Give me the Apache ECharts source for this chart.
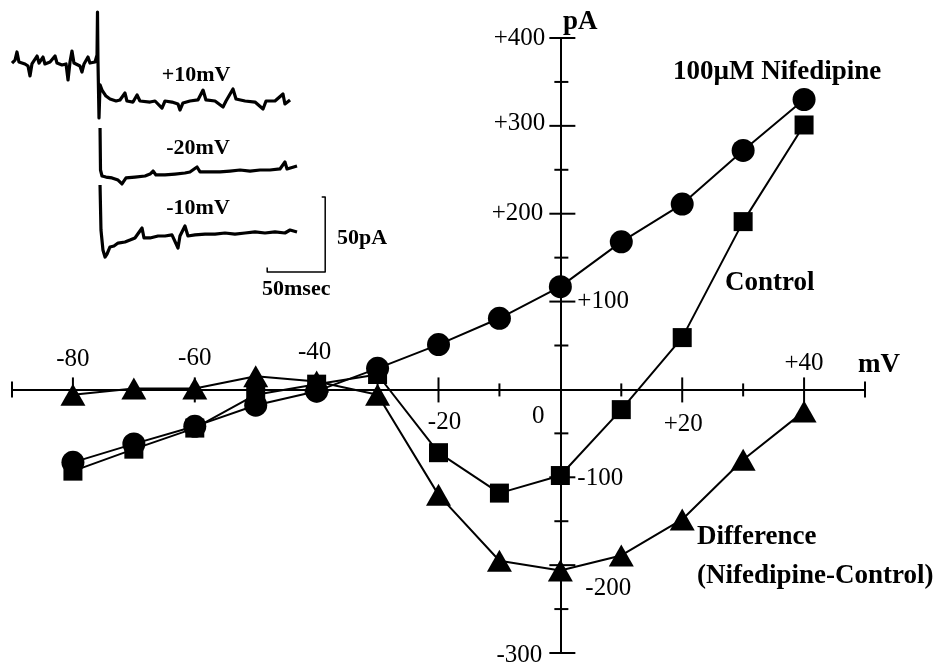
<!DOCTYPE html>
<html><head><meta charset="utf-8">
<script src="https://cdn.jsdelivr.net/npm/echarts@6/dist/echarts.min.js"></script>
<style>html,body{margin:0;padding:0;background:#fff}#c{width:938px;height:668px}</style>
</head><body><div id="c"></div>
<script>
// ---- I-V data (mV, pA) ----
const voltages   = [-80, -70, -60, -50, -40, -30, -20, -10, 0, 10, 20, 30, 40];
const nifedipine = [-83, -62, -42, -18, -2, 24, 51, 81, 117, 168, 211, 272, 330];
const control    = [-93, -68, -44, -6, 6, 17, -72, -118, -98, -23, 59, 191, 301];
const difference = [-6, 1, 1, 15, 9, -6, -120, -195, -206, -189, -148, -80, -25];

// ---- axis ticks / labels ----
const xTickMajor = [-80, -60, -40, -20, 20, 40];
const xTickMinor = [-70, -50, -30, -10, 10, 30];
const xAxisEnds  = [-90, 50];
const yTickMajor = [-300, -200, -100, 100, 200, 300, 400];
const yTickMinor = [-250, -150, -50, 50, 150, 250, 350];
const xLabelValues = [-80, -60, -40, -20, 0, 20, 40];
const xLabelTexts  = ['-80', '-60', '-40', '-20', '0', '+20', '+40'];
const yLabelValues = [-300, -200, -100, 100, 200, 300, 400];
const yLabelTexts  = ['-300', '-200', '-100', '+100', '+200', '+300', '+400'];

// ---- inset current traces (ms, pA) ----
const tracePlus10 = [[0,-0.7],[2.6,1.3],[4.3,6.7],[6.0,0],[11.2,-1.3],[13.8,-2.7],[15.5,-9.3],[17.2,-1.3],[21.6,4.0],[23.3,-0.7],[26.7,3.3],[28.4,-1.3],[32.8,0],[37.1,4.0],[38.8,-0.7],[43.1,-2.0],[46.6,-1.3],[48.3,-12.0],[50.0,0],[51.7,7.3],[53.4,-0.7],[58.6,-2.7],[60.3,-6.7],[62.1,-1.3],[65.5,3.3],[67.2,-0.7],[71.6,0],[73.3,4.7],[73.7,33.3],[74.1,1.3],[75.0,-37.3],[75.9,-15.3],[77.6,-18.7],[81.0,-22.7],[84.5,-24.7],[89.7,-26.0],[93.1,-25.3],[97.4,-20.7],[99.1,-26.0],[104.3,-26.7],[107.8,-22.0],[110.3,-26.0],[119.0,-26.7],[123.3,-26.0],[129.3,-30.7],[131.9,-26.0],[137.9,-26.7],[143.1,-28.0],[144.8,-32.0],[147.4,-27.3],[153.4,-26.0],[160.3,-25.3],[164.7,-18.7],[167.2,-25.3],[175.0,-26.0],[181.9,-30.0],[184.5,-26.0],[190.5,-18.0],[193.1,-24.7],[200.9,-26.0],[209.5,-26.7],[216.4,-31.3],[219.0,-26.0],[226.7,-26.0],[233.6,-21.3],[235.3,-28.0],[239.7,-25.3]];
const traceMinus20 = [[75.9,-44.0],[76.3,-72.0],[77.6,-76.0],[81.0,-76.7],[86.2,-77.3],[91.4,-78.7],[94.8,-81.3],[98.3,-77.3],[106.0,-76.7],[114.7,-76.0],[119.0,-74.7],[121.6,-72.7],[124.1,-75.3],[131.9,-75.3],[140.5,-74.7],[149.1,-74.0],[153.4,-73.3],[159.5,-70.0],[162.1,-73.3],[170.7,-73.3],[179.3,-73.3],[187.9,-72.7],[196.6,-72.0],[205.2,-72.7],[213.8,-72.0],[222.4,-72.0],[231.0,-71.3],[235.3,-66.7],[237.1,-71.3],[245.7,-69.3]];
const traceMinus10 = [[75.9,-82.0],[76.7,-112.0],[78.4,-125.3],[80.2,-130.0],[81.9,-128.0],[84.5,-123.3],[87.9,-122.7],[91.4,-120.7],[97.4,-120.0],[101.7,-118.7],[106.0,-117.3],[112.1,-110.7],[113.8,-117.3],[119.0,-117.3],[125.9,-116.0],[131.9,-116.0],[137.9,-115.3],[143.1,-124.0],[144.8,-116.0],[149.1,-109.3],[151.7,-116.0],[157.8,-115.3],[166.4,-114.7],[175.0,-114.7],[183.6,-114.0],[192.2,-114.7],[200.9,-114.0],[209.5,-113.3],[218.1,-114.0],[226.7,-113.3],[235.3,-114.0],[239.7,-112.0],[245.7,-113.3]];
const scaleBar = [[220,-137],[220,-140],[270,-140],[270,-90],[267,-90]];

// ---- rendering ----
const FONT = '"Liberation Serif","Times New Roman",serif';
const TICK_FONT = '25px ' + FONT;
const BOLD = 'bold 27px ' + FONT;
const IN_BOLD = 'bold 22px ' + FONT;

// tick geometry by kind: [up/left, down/right]
const tickLen = {xMaj:[12,13], xMin:[6,7], xEnd:[8,8], yMaj:[11,15], yMin:[6,8]};
const tickData = [];
xTickMajor.forEach(v => tickData.push([v, 0, 'xMaj']));
xTickMinor.forEach(v => tickData.push([v, 0, 'xMin']));
xAxisEnds.forEach(v => tickData.push([v, 0, 'xEnd']));
yTickMajor.forEach(v => tickData.push([0, v, 'yMaj']));
yTickMinor.forEach(v => tickData.push([0, v, 'yMin']));

// label offsets (px) from the axis point
const xLabelOff = [[0,-30],[0,-31],[-2,-37],[6,33],[-22,27],[1,35],[0,-26]];
const yLabelOff = [[-18,2,'right'],[25,23,'left'],[17,1,'left'],[17,0,'left'],[-17,0,'right'],[-15,-2,'right'],[-15,0,'right']];
const labelData = [];
xLabelValues.forEach((v, i) => labelData.push([v, 0, 'x', i]));
yLabelValues.forEach((v, i) => labelData.push([0, v, 'y', i]));

const chart = echarts.init(document.getElementById('c'));
const blk = '#000';
function ivSeries(name, vals, symbol, size) {
  return {
    type: 'line', name, xAxisIndex: 0, yAxisIndex: 0,
    data: voltages.map((v, i) => [v, vals[i]]),
    symbol, symbolSize: size, showSymbol: true, showAllSymbol: true,
    lineStyle: {color: blk, width: 2}, itemStyle: {color: blk},
    z: 5, silent: true
  };
}
function traceSeries(data, w) {
  return {type: 'line', xAxisIndex: 1, yAxisIndex: 1, data, showSymbol: false, symbol: 'none',
    lineStyle: {color: blk, width: w, join: 'round'}, z: 4, silent: true};
}

chart.setOption({
  animation: false,
  backgroundColor: '#fff',
  grid: [
    {left: 12, top: 38, width: 853, height: 615, outerBoundsMode: 'none', containLabel: false},
    {left: 12, top: 2, width: 348, height: 300, outerBoundsMode: 'none', containLabel: false}
  ],
  xAxis: [
    {type: 'value', gridIndex: 0, min: -90, max: 50,
     axisLine: {show: true, onZero: true, lineStyle: {color: blk, width: 2}},
     axisTick: {show: false}, axisLabel: {show: false}, splitLine: {show: false}},
    {type: 'value', gridIndex: 1, min: 0, max: 300, show: false}
  ],
  yAxis: [
    {type: 'value', gridIndex: 0, min: -300, max: 400,
     axisLine: {show: true, onZero: true, lineStyle: {color: blk, width: 2}},
     axisTick: {show: false}, axisLabel: {show: false}, splitLine: {show: false}},
    {type: 'value', gridIndex: 1, min: -160, max: 40, show: false}
  ],
  series: [
    {
      type: 'custom', xAxisIndex: 0, yAxisIndex: 0, data: tickData, silent: true, z: 3, clip: false,
      renderItem: function (params, api) {
        const p = api.coord([api.value(0), api.value(1)]);
        const kind = tickData[params.dataIndex][2];
        const L = tickLen[kind];
        let shape;
        if (kind[0] === 'x') shape = {x1: p[0], y1: p[1] - L[0], x2: p[0], y2: p[1] + L[1]};
        else shape = {x1: p[0] - L[0], y1: p[1], x2: p[0] + L[1], y2: p[1]};
        return {type: 'line', shape, style: {stroke: blk, lineWidth: 2}};
      }
    },
    {
      type: 'custom', xAxisIndex: 0, yAxisIndex: 0, data: labelData, silent: true, z: 6, clip: false,
      renderItem: function (params, api) {
        const d = labelData[params.dataIndex];
        const p = api.coord([api.value(0), api.value(1)]);
        let text, off, align;
        if (d[2] === 'x') { text = xLabelTexts[d[3]]; off = xLabelOff[d[3]]; align = 'center'; }
        else { text = yLabelTexts[d[3]]; off = yLabelOff[d[3]]; align = off[2]; }
        return {type: 'text', x: p[0] + off[0], y: p[1] + off[1],
          style: {text, font: TICK_FONT, fill: blk, textAlign: align, textVerticalAlign: 'middle'}};
      }
    },
    ivSeries('100µM Nifedipine', nifedipine, 'circle', 23),
    ivSeries('Control', control, 'rect', 19),
    ivSeries('Difference (Nifedipine-Control)', difference, 'triangle', [25, 22]),
    traceSeries(tracePlus10, 3.2),
    traceSeries(traceMinus20, 3.2),
    traceSeries(traceMinus10, 3.2),
    traceSeries(scaleBar, 1.5)
  ],
  graphic: [
    {type: 'text', x: 673, y: 72, style: {text: '100µM Nifedipine', font: BOLD, fill: blk, textVerticalAlign: 'middle'}},
    {type: 'text', x: 725, y: 283, style: {text: 'Control', font: BOLD, fill: blk, textVerticalAlign: 'middle'}},
    {type: 'text', x: 697, y: 537, style: {text: 'Difference', font: BOLD, fill: blk, textVerticalAlign: 'middle'}},
    {type: 'text', x: 697, y: 576, style: {text: '(Nifedipine-Control)', font: BOLD, fill: blk, textVerticalAlign: 'middle'}},
    {type: 'text', x: 563, y: 22, style: {text: 'pA', font: BOLD, fill: blk, textVerticalAlign: 'middle'}},
    {type: 'text', x: 858, y: 365, style: {text: 'mV', font: BOLD, fill: blk, textVerticalAlign: 'middle'}},
    {type: 'text', x: 196, y: 75, style: {text: '+10mV', font: IN_BOLD, fill: blk, textAlign: 'center', textVerticalAlign: 'middle'}},
    {type: 'text', x: 198, y: 148, style: {text: '-20mV', font: IN_BOLD, fill: blk, textAlign: 'center', textVerticalAlign: 'middle'}},
    {type: 'text', x: 198, y: 208, style: {text: '-10mV', font: IN_BOLD, fill: blk, textAlign: 'center', textVerticalAlign: 'middle'}},
    {type: 'text', x: 337, y: 238, style: {text: '50pA', font: IN_BOLD, fill: blk, textVerticalAlign: 'middle'}},
    {type: 'text', x: 262, y: 289, style: {text: '50msec', font: IN_BOLD, fill: blk, textVerticalAlign: 'middle'}}
  ]
});
</script>
</body></html>
